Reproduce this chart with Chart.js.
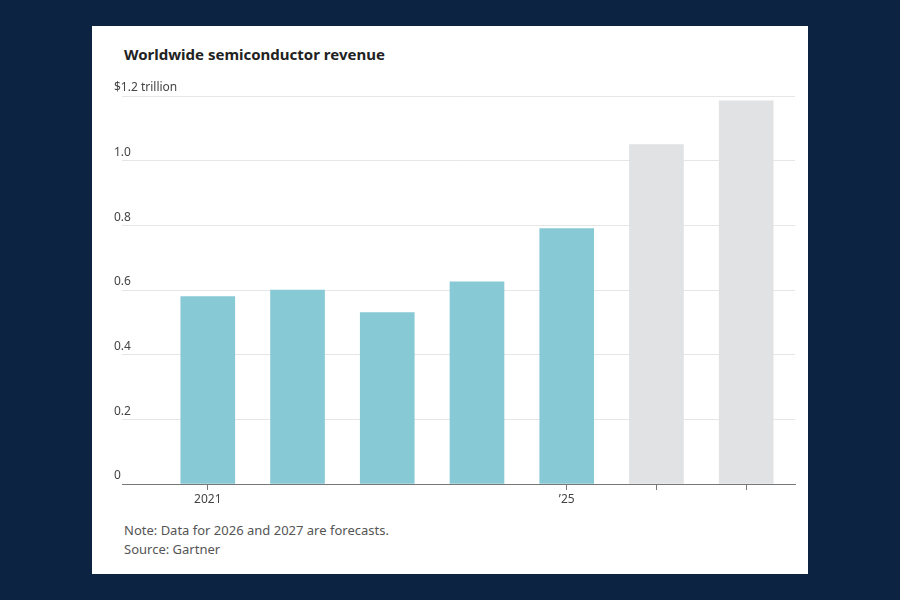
<!DOCTYPE html>
<html><head><meta charset="utf-8">
<script src="https://cdn.jsdelivr.net/npm/chart.js@4"></script>
<style>
body{margin:0;width:900px;height:600px;background:#0c2342;position:relative;overflow:hidden;font-family:"Noto Sans",sans-serif}
#card{position:absolute;left:92px;top:26px;width:716px;height:548px;background:#fff}
#title{position:absolute;left:124px;top:44px;font-size:15px;font-weight:bold;color:#222}
#note{position:absolute;left:124px;top:521px;font-size:13px;color:#555;line-height:19px}
canvas{position:absolute;left:0;top:0}
</style></head><body>
<div id="card"></div>
<div id="title">Worldwide semiconductor revenue</div>
<div id="note">Note: Data for 2026 and 2027 are forecasts.<br>Source: Gartner</div>
<canvas id="c" width="900" height="600"></canvas>
<script>
const years=[2021,2022,2023,2024,2025,2026,2027];
const revenue=[0.58,0.60,0.53,0.625,0.79,1.05,1.185];
const forecast=[false,false,false,false,false,true,true];
const xTickYears=[2021,2025,2026,2027];
const xTickLabels={2021:"2021",2025:"\u201925"};
const yTicks=[0,0.2,0.4,0.6,0.8,1.0,1.2];
new Chart(document.getElementById('c'),{
type:'bar',
data:{datasets:[{data:years.map((y,i)=>({x:y,y:revenue[i]})),
backgroundColor:forecast.map(f=>f?'#e1e2e4':'#88c9d6'),barThickness:54}]},
options:{responsive:false,animation:false,
layout:{padding:{left:122,right:105,top:96,bottom:86}},
plugins:{legend:{display:false},tooltip:{enabled:false}},
scales:{
x:{type:'linear',min:2020.044,max:2027.544,offset:false,
afterBuildTicks:a=>{a.ticks=xTickYears.map(v=>({value:v}))},
afterFit:a=>{a.height=30},
grid:{drawOnChartArea:false,offset:false,tickLength:6,color:'#777'},
border:{color:'#777'},
ticks:{color:'#444',font:{family:'Noto Sans',size:12},padding:2,autoSkip:false,
callback:v=>xTickLabels[v]||''}},
y:{min:0,max:1.2,
afterBuildTicks:a=>{a.ticks=yTicks.map(v=>({value:v}))},
afterFit:a=>{a.width=0},
grid:{color:'#e6e6e6',drawTicks:false},
border:{display:false},
ticks:{mirror:true,padding:-8,labelOffset:-8,color:'#444',font:{family:'Noto Sans',size:12},
callback:v=>v===1.2?'$1.2 trillion':(v===0?'0':v.toFixed(1))}}
}}});
</script></body></html>
